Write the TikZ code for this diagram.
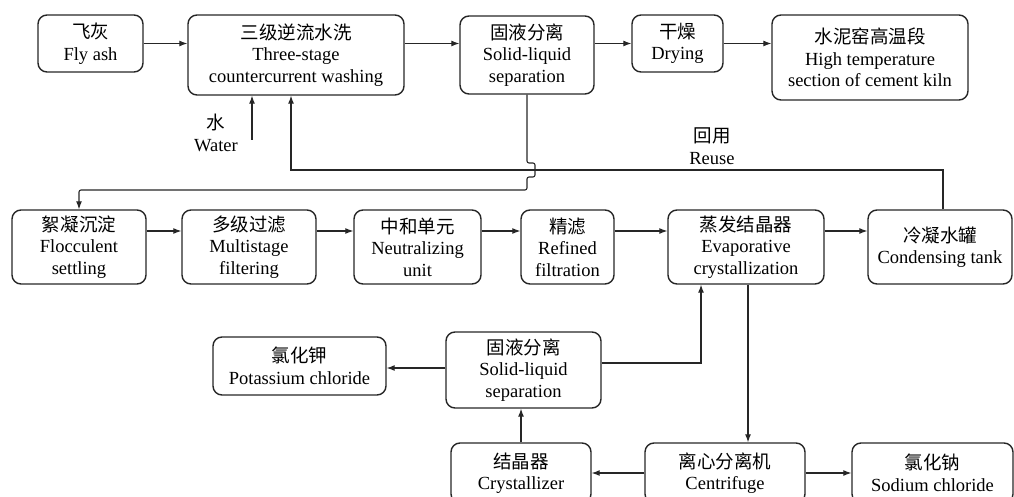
\documentclass[tikz,border=0pt]{standalone}
\usepackage{fontspec}
\setmainfont{Liberation Serif}
\newfontfamily\zhfont{Noto Sans CJK SC}
\usetikzlibrary{arrows.meta, positioning}

\newcommand{\zh}[1]{{\zhfont #1}}

\begin{document}
\begin{tikzpicture}[
    x=1pt, y=-1pt,
    every node/.style={font=\fontsize{18.5}{21.5}\selectfont, align=center, inner sep=0pt},
    box/.style={draw=black!85, rounded corners=9pt, line width=1.4pt},
    flow/.style={draw=black!85, line width=1.1pt, -{Latex[length=8pt,width=6pt]}}
]
\useasboundingbox (0,0) rectangle (1014,497);

% top row
\node[box, minimum width=105, minimum height=57] (fly) at (90.5,43.5) {\zh{飞灰}\\Fly ash};
\node[box, minimum width=216, minimum height=80] (wash) at (296,55) {\zh{三级逆流水洗}\\Three-stage\\countercurrent washing};
\node[box, minimum width=134, minimum height=78] (sep) at (527,55) {\zh{固液分离}\\Solid-liquid\\separation};
\node[box, minimum width=91, minimum height=57] (dry) at (677.5,43.5) {\zh{干燥}\\Drying};
\node[box, minimum width=196, minimum height=85] (kiln) at (870,57.5) {\zh{水泥窑高温段}\\High temperature\\section of cement kiln};

% middle row
\node[box, minimum width=134, minimum height=74] (floc) at (79,247) {\zh{絮凝沉淀}\\Flocculent\\settling};
\node[box, minimum width=134, minimum height=74] (multi) at (249,247) {\zh{多级过滤}\\Multistage\\filtering};
\node[box, minimum width=127, minimum height=74] (neut) at (417.5,247) {\zh{中和单元}\\Neutralizing\\unit};
\node[box, minimum width=93, minimum height=74] (refi) at (567.5,247) {\zh{精滤}\\Refined\\filtration};
\node[box, minimum width=156, minimum height=74] (evap) at (746,247) {\zh{蒸发结晶器}\\Evaporative\\crystallization};
\node[box, minimum width=144, minimum height=74] (cond) at (940,247) {\zh{冷凝水罐}\\Condensing tank};

% bottom rows
\node[box, minimum width=173, minimum height=58] (pot) at (299.5,366) {\zh{氯化钾}\\Potassium chloride};
\node[box, minimum width=155, minimum height=76] (sep2) at (523.5,370) {\zh{固液分离}\\Solid-liquid\\separation};
\node[box, minimum width=140, minimum height=60] (cryst) at (521,473) {\zh{结晶器}\\Crystallizer};
\node[box, minimum width=160, minimum height=60] (cent) at (725,473) {\zh{离心分离机}\\Centrifuge};
\node[box, minimum width=161, minimum height=60] (sod) at (932.5,473) {\zh{氯化钠}\\Sodium chloride};

% labels
\node (water) at (216,133) {\zh{水}\\Water};
\node (reuse) at (712,146) {\zh{回用}\\Reuse};
\coordinate (win) at (252,140);
\coordinate (rj) at (527,170);

% top flow
\draw[flow] (fly.east) -- (fly.east -| wash.west);
\draw[flow] (wash.east |- fly.east) -- (sep.west |- fly.east);
\draw[flow] (sep.east |- dry.west) -- (dry.west);
\draw[flow] (dry.east) -- (dry.east -| kiln.west);
\draw[flow] (win) -- (win |- wash.south);

% reuse loop
\draw[flow] ([xshift=3]cond.north) |- (rj) -| ([xshift=-5]wash.south);
\draw[flow, rounded corners=2pt] (sep.south) -- ([yshift=7]rj) -- ++(8,0) -- ++(0,14) -- ++(-8,0) -- ++(0,13) -| (floc.north);

% middle flow
\draw[flow] ([yshift=16]floc.east) -- ([yshift=16]multi.west);
\draw[flow] ([yshift=16]multi.east) -- ([yshift=16]neut.west);
\draw[flow] ([yshift=16]neut.east) -- ([yshift=16]refi.west);
\draw[flow] ([yshift=16]refi.east) -- ([yshift=16]evap.west);
\draw[flow] ([yshift=16]evap.east) -- ([yshift=16]cond.west);

% bottom flow
\draw[flow] ([xshift=2]evap.south) -- ([xshift=2]evap.south |- cent.north);
\draw[flow] ([yshift=7]sep2.east) -| ([xshift=-45]evap.south);
\draw[flow] ([yshift=2]sep2.west) -- ([yshift=2]sep2.west -| pot.east);
\draw[flow] (cryst.north) -- (cryst.north |- sep2.south);
\draw[flow] (cent.west) -- (cryst.east);
\draw[flow] (cent.east) -- (sod.west);

\end{tikzpicture}
\end{document}
